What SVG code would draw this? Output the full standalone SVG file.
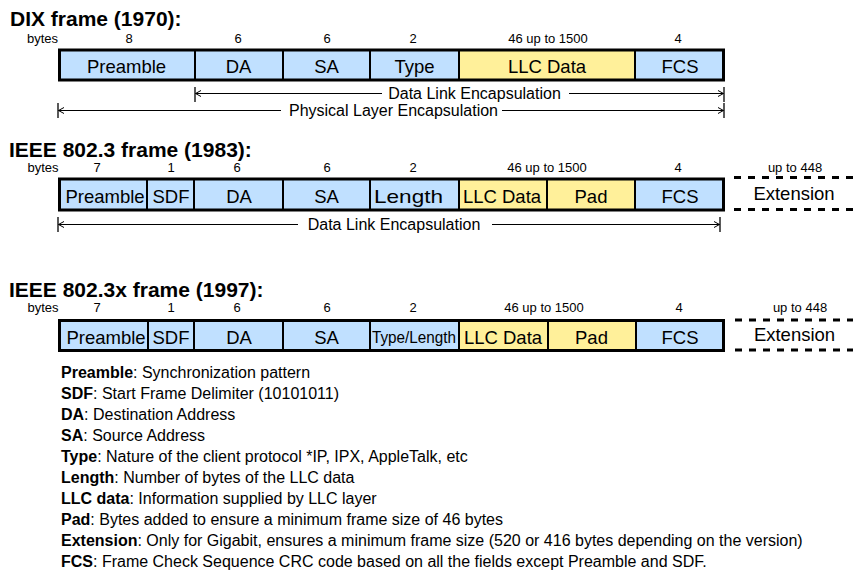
<svg xmlns="http://www.w3.org/2000/svg" width="861" height="572" viewBox="0 0 861 572">
<defs>
<style>
text{font-family:"Liberation Sans",Arial,Helvetica,sans-serif;fill:#000}
.title{font-size:21px;font-weight:bold}
.bytes{font-size:13px}
.num{font-size:13px;text-anchor:middle}
.lbl{font-size:18.5px;text-anchor:middle}
.lbl.narrow{font-size:16.5px}
.enc{font-size:16px}
.leg{font-size:16px}
.leg tspan.b{font-weight:bold}
.blue{fill:#C0E0FF}
.yel{fill:#FFF09A}
.div{stroke:#000;stroke-width:2}
.outer{fill:none;stroke:#000;stroke-width:3}
.dash{stroke:#000;stroke-width:3;stroke-dasharray:7 7}
.line{stroke:#000;stroke-width:1;fill:none}
.tick{stroke:#000;stroke-width:1.3}
</style>
<marker id="ah" markerUnits="userSpaceOnUse" markerWidth="8" markerHeight="8" refX="6" refY="3.5" orient="auto-start-reverse">
<path d="M0.5,0.5 L6,3.5 L0.5,6.5" fill="none" stroke="#000" stroke-width="1"/>
</marker>
</defs>
<rect width="861" height="572" fill="#fff"/>

<!-- DIX frame -->
<g id="dix">
<text class="title" x="10" y="26">DIX frame (1970):</text>
<text class="bytes" x="58" y="43" text-anchor="end">bytes</text>
<text class="num" x="129" y="43">8</text>
<text class="num" x="238" y="43">6</text>
<text class="num" x="327" y="43">6</text>
<text class="num" x="413" y="43">2</text>
<text class="num" x="548" y="43">46 up to 1500</text>
<text class="num" x="678" y="43">4</text>
<g id="dix-preamble"><rect class="blue" x="58" y="49" width="137" height="32"/><text class="lbl" x="126.5" y="72.5">Preamble</text></g>
<g id="dix-da"><rect class="blue" x="195" y="49" width="88" height="32"/><text class="lbl" x="238.5" y="72.5">DA</text></g>
<g id="dix-sa"><rect class="blue" x="283" y="49" width="87" height="32"/><text class="lbl" x="326.5" y="72.5">SA</text></g>
<g id="dix-type"><rect class="blue" x="370" y="49" width="89" height="32"/><text class="lbl" x="414.5" y="72.5">Type</text></g>
<g id="dix-llc"><rect class="yel" x="459" y="49" width="176" height="32"/><text class="lbl" x="547" y="72.5">LLC Data</text></g>
<g id="dix-fcs"><rect class="blue" x="635" y="49" width="90" height="32"/><text class="lbl" x="680" y="72.5">FCS</text></g>
<line class="div" x1="195" y1="49" x2="195" y2="81"/>
<line class="div" x1="283" y1="49" x2="283" y2="81"/>
<line class="div" x1="370" y1="49" x2="370" y2="81"/>
<line class="div" x1="459" y1="49" x2="459" y2="81"/>
<line class="div" x1="635" y1="49" x2="635" y2="81"/>
<rect class="outer" x="59.5" y="50" width="664" height="30"/>
</g>

<!-- IEEE 802.3 frame -->
<g id="ieee8023">
<text class="title" x="9" y="156.5">IEEE 802.3 frame (1983):</text>
<text class="bytes" x="58.5" y="172" text-anchor="end">bytes</text>
<text class="num" x="97" y="172">7</text>
<text class="num" x="171" y="172">1</text>
<text class="num" x="237" y="172">6</text>
<text class="num" x="327" y="172">6</text>
<text class="num" x="413" y="172">2</text>
<text class="num" x="547" y="172">46 up to 1500</text>
<text class="num" x="678" y="172">4</text>
<text class="num" x="795" y="172">up to 448</text>
<g id="e3-preamble"><rect class="blue" x="58" y="178" width="89" height="33"/><text class="lbl" x="105" y="202.5">Preamble</text></g>
<g id="e3-sdf"><rect class="blue" x="147" y="178" width="47" height="33"/><text class="lbl" x="171" y="202.5">SDF</text></g>
<g id="e3-da"><rect class="blue" x="194" y="178" width="89" height="33"/><text class="lbl" x="239" y="202.5">DA</text></g>
<g id="e3-sa"><rect class="blue" x="283" y="178" width="87" height="33"/><text class="lbl" x="326.5" y="202.5">SA</text></g>
<g id="e3-length"><rect class="blue" x="370" y="178" width="89" height="33"/><text class="lbl" x="408.5" y="202.5" textLength="69" lengthAdjust="spacingAndGlyphs">Length</text></g>
<g id="e3-llc"><rect class="yel" x="459" y="178" width="88" height="33"/><text class="lbl" x="502" y="202.5">LLC Data</text></g>
<g id="e3-pad"><rect class="yel" x="547" y="178" width="88" height="33"/><text class="lbl" x="591" y="202.5">Pad</text></g>
<g id="e3-fcs"><rect class="blue" x="635" y="178" width="90" height="33"/><text class="lbl" x="680" y="202.5">FCS</text></g>
<line class="div" x1="147" y1="178" x2="147" y2="211"/>
<line class="div" x1="194" y1="178" x2="194" y2="211"/>
<line class="div" x1="283" y1="178" x2="283" y2="211"/>
<line class="div" x1="370" y1="178" x2="370" y2="211"/>
<line class="div" x1="459" y1="178" x2="459" y2="211"/>
<line class="div" x1="547" y1="178" x2="547" y2="211"/>
<line class="div" x1="635" y1="178" x2="635" y2="211"/>
<rect class="outer" x="59.5" y="179" width="664" height="31"/>
<g id="e3-extension">
<line class="dash" x1="734" y1="177.5" x2="853" y2="177.5"/>
<line class="dash" x1="734" y1="209.5" x2="853" y2="209.5"/>
<text class="lbl" x="794" y="200">Extension</text>
</g>
</g>

<!-- IEEE 802.3x frame -->
<g id="ieee8023x">
<text class="title" x="9" y="297">IEEE 802.3x frame (1997):</text>
<text class="bytes" x="58.5" y="312" text-anchor="end">bytes</text>
<text class="num" x="97" y="312">7</text>
<text class="num" x="171" y="312">1</text>
<text class="num" x="237" y="312">6</text>
<text class="num" x="327" y="312">6</text>
<text class="num" x="413" y="312">2</text>
<text class="num" x="544" y="312">46 up to 1500</text>
<text class="num" x="679" y="312">4</text>
<text class="num" x="800" y="312">up to 448</text>
<g id="x-preamble"><rect class="blue" x="58" y="319" width="90" height="33"/><text class="lbl" x="106" y="343.5">Preamble</text></g>
<g id="x-sdf"><rect class="blue" x="148" y="319" width="46" height="33"/><text class="lbl" x="171" y="343.5">SDF</text></g>
<g id="x-da"><rect class="blue" x="194" y="319" width="89" height="33"/><text class="lbl" x="239" y="343.5">DA</text></g>
<g id="x-sa"><rect class="blue" x="283" y="319" width="87" height="33"/><text class="lbl" x="326.5" y="343.5">SA</text></g>
<g id="x-typelength"><rect class="blue" x="370" y="319" width="89" height="33"/><text class="lbl narrow" x="414" y="343" textLength="84" lengthAdjust="spacingAndGlyphs">Type/Length</text></g>
<g id="x-llc"><rect class="yel" x="459" y="319" width="89" height="33"/><text class="lbl" x="503" y="343.5">LLC Data</text></g>
<g id="x-pad"><rect class="yel" x="548" y="319" width="88" height="33"/><text class="lbl" x="591.5" y="343.5">Pad</text></g>
<g id="x-fcs"><rect class="blue" x="636" y="319" width="89" height="33"/><text class="lbl" x="680" y="343.5">FCS</text></g>
<line class="div" x1="148" y1="319" x2="148" y2="352"/>
<line class="div" x1="194" y1="319" x2="194" y2="352"/>
<line class="div" x1="283" y1="319" x2="283" y2="352"/>
<line class="div" x1="370" y1="319" x2="370" y2="352"/>
<line class="div" x1="459" y1="319" x2="459" y2="352"/>
<line class="div" x1="548" y1="319" x2="548" y2="352"/>
<line class="div" x1="636" y1="319" x2="636" y2="352"/>
<rect class="outer" x="59.5" y="320.5" width="664" height="30"/>
<g id="x-extension">
<line class="dash" x1="735" y1="320" x2="853" y2="320"/>
<line class="dash" x1="735" y1="350" x2="853" y2="350"/>
<text class="lbl" x="794.5" y="341">Extension</text>
</g>
</g>

<!-- connectors: encapsulation spans -->
<g id="connectors">
<line class="tick" x1="195" y1="87" x2="195" y2="102"/>
<line class="tick" x1="724" y1="87" x2="724" y2="102"/>
<line class="line" x1="195.5" y1="93.5" x2="382" y2="93.5" marker-start="url(#ah)"/>
<line class="line" x1="569" y1="93.5" x2="723.5" y2="93.5" marker-end="url(#ah)"/>
<text class="enc" x="474.5" y="99" text-anchor="middle">Data Link Encapsulation</text>

<line class="tick" x1="58" y1="103" x2="58" y2="118"/>
<line class="tick" x1="724" y1="103" x2="724" y2="118"/>
<line class="line" x1="58.5" y1="110.5" x2="281" y2="110.5" marker-start="url(#ah)"/>
<line class="line" x1="502" y1="110.5" x2="723.5" y2="110.5" marker-end="url(#ah)"/>
<text class="enc" x="393.5" y="116" text-anchor="middle">Physical Layer Encapsulation</text>

<line class="tick" x1="58" y1="217" x2="58" y2="232"/>
<line class="tick" x1="720" y1="217" x2="720" y2="232"/>
<line class="line" x1="58.5" y1="224.5" x2="298" y2="224.5" marker-start="url(#ah)"/>
<line class="line" x1="492" y1="224.5" x2="719.5" y2="224.5" marker-end="url(#ah)"/>
<text class="enc" x="394" y="230" text-anchor="middle">Data Link Encapsulation</text>
</g>

<!-- legend -->
<g id="legend">
<text class="leg" x="61" y="378"><tspan class="b">Preamble</tspan>: Synchronization pattern</text>
<text class="leg" x="61" y="399"><tspan class="b">SDF</tspan>: Start Frame Delimiter (10101011)</text>
<text class="leg" x="61" y="420"><tspan class="b">DA</tspan>: Destination Address</text>
<text class="leg" x="61" y="441"><tspan class="b">SA</tspan>: Source Address</text>
<text class="leg" x="61" y="462"><tspan class="b">Type</tspan>: Nature of the client protocol *IP, IPX, AppleTalk, etc</text>
<text class="leg" x="61" y="483"><tspan class="b">Length</tspan>: Number of bytes of the LLC data</text>
<text class="leg" x="61" y="504"><tspan class="b">LLC data</tspan>: Information supplied by LLC layer</text>
<text class="leg" x="61" y="525"><tspan class="b">Pad</tspan>: Bytes added to ensure a minimum frame size of 46 bytes</text>
<text class="leg" x="61" y="546"><tspan class="b">Extension</tspan>: Only for Gigabit, ensures a minimum frame size (520 or 416 bytes depending on the version)</text>
<text class="leg" x="61" y="567"><tspan class="b">FCS</tspan>: Frame Check Sequence CRC code based on all the fields except Preamble and SDF.</text>
</g>
</svg>
